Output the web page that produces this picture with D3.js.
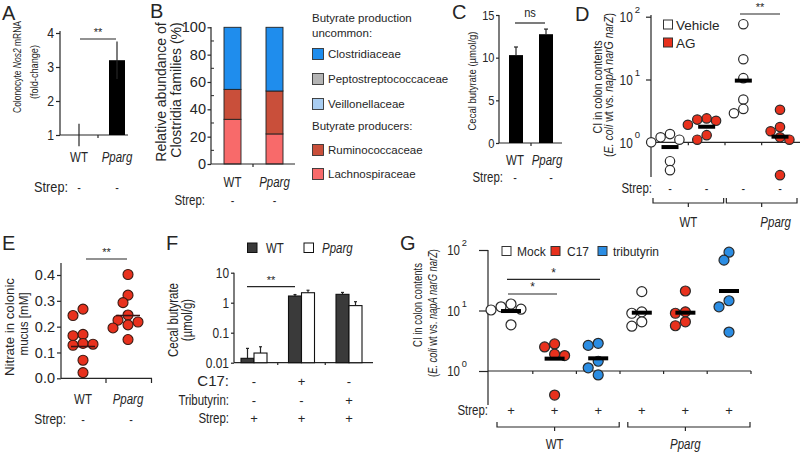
<!DOCTYPE html>
<html><head><meta charset="utf-8">
<script src="https://cdn.jsdelivr.net/npm/d3@7"></script>
<style>
html,body{margin:0;padding:0;background:#fff;}
svg{display:block;}
</style></head><body>
<svg id="fig" width="800" height="453"></svg>
<script>
// ---------------- DATA ----------------
// Panel A
const aGroups = ["WT", "Pparg"];
const aMean = [1.0, 3.2];
const aSem = [0.33, 0.55];
const aTicks = [1, 2, 3, 4];
const aStrep = ["-", "-"];
// Panel B
const bGroups = ["WT", "Pparg"];
const bFamilies = ["Lachnospiraceae", "Ruminococcaceae", "Veillonellaceae", "Peptostreptococcaceae", "Clostridiaceae"];
const bWT = [32.7, 21.9, 0, 0, 45.4];
const bPparg = [22.0, 31.4, 0, 0, 46.6];
const bTicks = [0, 20, 40, 60, 80, 100];
const bStrep = ["-", "-"];
// Panel C
const cGroups = ["WT", "Pparg"];
const cMean = [10.3, 12.75];
const cSem = [0.95, 0.6];
const cTicks = [0, 5, 10, 15];
const cStrep = ["-", "-"];
// Panel D
const dGroups = ["WT|Vehicle", "WT|AG", "Pparg|Vehicle", "Pparg|AG"];
const dWTVehicle = [1.35, 1.2, 1.1, 1.0, 0.5, 0.36];
const dWTAG = [2.4, 2.3, 2.2, 1.9, 1.3, 1.1];
const dPpargVehicle = [76, 21, 10.5, 4.8, 3.4, 2.9];
const dPpargAG = [3.3, 1.75, 1.5, 1.2, 1.1, 0.3];
const dMedian = [0.84, 1.77, 9.6, 1.23];
const dTicks = [1, 10, 100];
const dStrep = ["-", "-", "-", "-"];
// Panel E
const eGroups = ["WT", "Pparg"];
const eWT = [0.268, 0.243, 0.17, 0.165, 0.135, 0.132, 0.128, 0.07, 0.022];
const ePparg = [0.402, 0.322, 0.293, 0.245, 0.225, 0.218, 0.207, 0.195, 0.15];
const eMedian = [0.123, 0.243];
const eTicks = [0, 0.1, 0.2, 0.3, 0.4];
const eStrep = ["-", "-"];
// Panel F
const fGroups = ["1", "2", "3"];
const fWT = [0.014, 1.67, 1.9];
const fWTErr = [0.016, 0.2, 0.3];
const fPparg = [0.021, 2.15, 0.8];
const fPpargErr = [0.013, 0.45, 0.28];
const fTicks = [0.01, 0.1, 1, 10];
const fC17 = ["-", "+", "-"];
const fTrib = ["-", "-", "+"];
const fStrep = ["+", "+", "+"];
// Panel G
const gGroups = ["WT|Mock", "WT|C17", "WT|tributyrin", "Pparg|Mock", "Pparg|C17", "Pparg|tributyrin"];
const gWTMock = [12.8, 11.5, 10.5, 10.2, 5.8];
const gWTC17 = [2.8, 2.5, 1.9, 1.8, 0.4];
const gWTTrib = [2.87, 2.65, 1.45, 1.13, 0.86];
const gPpargMock = [20.5, 9.5, 9.0, 6.5, 5.5];
const gPpargC17 = [21, 9.5, 9.0, 6.5, 5.6];
const gPpargTrib = [92, 68, 14.5, 11.5, 4.4];
const gMedian = [9.8, 1.6, 1.62, 9.2, 9.2, 21];
const gTicks = [1, 10, 100];
const gStrep = ["+", "+", "+", "+", "+", "+"];

// ---------------- HELPERS ----------------
const svg = d3.select("#fig");
const REG = "'Liberation Sans',Arial,Helvetica,sans-serif";
const INK = "#262626";
const RED = "#e8311d";
const BLUE = "#2b8de3";
const NARROW_K = 0.82; // Arial-Narrow-like condensation

function txt(g, x, y, s, o = {}) {
  const t = g.append("text").attr("x", x).attr("y", y).attr("dy", "0.35em")
    .attr("font-size", o.size || 12).attr("text-anchor", o.anchor || "middle")
    .attr("font-family", REG).attr("fill", INK).text(s);
  if (!o.reg) t.classed("nar", true);
  if (o.italic) t.attr("font-style", "italic");
  return t;
}
function vtext(g, cx, cy, parts, size, reg, len) {
  const t = g.append("text").attr("transform", `translate(${cx},${cy}) rotate(-90)`)
    .attr("text-anchor", "middle").attr("dy", "0.35em").attr("font-size", size)
    .attr("font-family", REG).attr("fill", INK);
  parts.forEach(p => { const s = t.append("tspan").text(p[0]); if (p[1]) s.attr("font-style", "italic"); });
  if (len) t.attr("textLength", len).attr("lengthAdjust", "spacingAndGlyphs");
  else if (!reg) t.classed("nar", true);
  return t;
}
function line(g, x1, y1, x2, y2, w = 1.2, c = INK) {
  return g.append("line").attr("x1", x1).attr("y1", y1).attr("x2", x2).attr("y2", y2)
    .attr("stroke", c).attr("stroke-width", w);
}
function styleAxis(sel, size, reg) {
  sel.select(".domain").remove();
  sel.selectAll(".tick line").attr("stroke", INK).attr("stroke-width", 1.2);
  sel.selectAll(".tick text").attr("font-size", size).attr("font-family", REG).attr("fill", INK)
    .classed("nar", !reg);
}
// powers of ten drawn as "10" plus a separate raised exponent text
function supLabels(sel, size, gap) {
  sel.selectAll(".tick").each(function (d) {
    const tk = d3.select(this);
    tk.select("text").remove();
    const e = Math.round(Math.log10(d));
    const ex = -gap;
    tk.append("text").attr("x", ex).attr("y", -size * 0.3).attr("text-anchor", "end")
      .attr("font-size", size * 0.66).attr("font-family", REG).attr("fill", INK).text(e);
    tk.append("text").attr("x", ex - size * 0.5).attr("y", 0).attr("dy", "0.35em").attr("text-anchor", "end")
      .attr("font-size", size).attr("font-family", REG).attr("fill", INK).classed("nar", true).text("10");
  });
}
function swarm(vals, cx, yf, r) {
  const pts = vals.map((v, i) => ({ v, y: yf(v), i }));
  const sorted = pts.slice().sort((a, b) => a.y - b.y);
  const placed = [];
  const step = r * 1.0;
  sorted.forEach(p => {
    for (let k = 0; k < 30; k++) {
      const off = k === 0 ? 0 : (k % 2 ? -1 : 1) * Math.ceil(k / 2) * step;
      const x = cx + off;
      if (placed.every(q => Math.hypot(q.x - x, q.y - p.y) >= 2 * r * 0.9)) { p.x = x; break; }
    }
    placed.push(p);
  });
  return pts;
}
function letter(x, y, s) { txt(svg, x, y, s, { size: 20, anchor: "start", reg: true }); }
function sig(g, x1, x2, y, label, size = 11) {
  line(g, x1, y, x2, y, 1.2);
  txt(g, (x1 + x2) / 2, y - 7, label, { size, reg: true });
}

// ---------------- PANEL A ----------------
letter(2, 13, "A");
{
  const g = svg.append("g");
  const y = d3.scaleLinear().domain([1, 4]).range([135, 33]);
  const x = d3.scalePoint().domain(aGroups).range([79, 117]);
  const bw = 16;
  line(g, 60, 31, 60, 135);
  const ax = g.append("g").attr("transform", "translate(60,0)")
    .call(d3.axisLeft(y).tickValues(aTicks).tickSize(4).tickPadding(2).tickFormat(d3.format("d")));
  styleAxis(ax, 15);
  line(g, 60, 135, 128, 135);
  line(g, 98, 135, 98, 138);
  g.selectAll("rect.bar").data(aGroups).join("rect")
    .attr("x", d => x(d) - bw / 2).attr("width", bw)
    .attr("y", (d, i) => y(aMean[i])).attr("height", (d, i) => y(1) - y(aMean[i]))
    .attr("fill", "#000");
  aGroups.forEach((d, i) => line(g, x(d), y(aMean[i] - aSem[i]), x(d), y(aMean[i] + aSem[i]), 1.2));
  sig(g, x("WT") + 1, x("Pparg") - 1, 39, "**");
  aGroups.forEach((d, i) => {
    txt(g, x(d), 157, d, { size: 14, italic: d === "Pparg" });
    txt(g, x(d), 187, aStrep[i], { size: 13 });
  });
  txt(g, 68, 187, "Strep:", { size: 15.5, anchor: "end" });
  vtext(g, 17, 67, [["Colonocyte "], ["Nos2", true], [" mRNA"]], 11.5, false, 92);
  vtext(g, 34, 72, [["(fold-change)"]], 11.5, false, 54);
}

// ---------------- PANEL B ----------------
letter(150, 11, "B");
{
  const g = svg.append("g");
  const y = d3.scaleLinear().domain([0, 100]).range([164, 27.3]);
  const x = d3.scalePoint().domain(bGroups).range([232.5, 274.5]);
  const bw = 17;
  const color = d3.scaleOrdinal().domain(bFamilies)
    .range(["#f86a6a", "#c94f3a", "#a9cdf1", "#b4b4b4", "#1f8ded"]);
  const rows = bGroups.map((gname, i) => {
    const src = i === 0 ? bWT : bPparg;
    const o = { group: gname };
    bFamilies.forEach((f, j) => o[f] = src[j]);
    return o;
  });
  const series = d3.stack().keys(bFamilies)(rows);
  series.forEach(s => {
    g.selectAll(null).data(s).join("rect")
      .attr("x", d => x(d.data.group) - bw / 2).attr("width", bw)
      .attr("y", d => y(d[1])).attr("height", d => y(d[0]) - y(d[1]))
      .attr("fill", color(s.key)).attr("stroke", "#222").attr("stroke-width", 0.9);
  });
  line(g, 211, 27, 211, 164);
  const ax = g.append("g").attr("transform", "translate(211,0)")
    .call(d3.axisLeft(y).tickValues(bTicks).tickSize(3.5).tickPadding(1.5));
  styleAxis(ax, 14.5, true);
  [10, 30, 50, 70, 90].forEach(v => line(g, 211, y(v), 214, y(v), 1));
  line(g, 211, 164, 295, 164);
  line(g, 253, 164, 253, 167);
  bGroups.forEach((d, i) => {
    txt(g, x(d), 182, d, { size: 14, italic: d === "Pparg" });
    txt(g, x(d), 200, bStrep[i], { size: 13 });
  });
  txt(g, 205, 200, "Strep:", { size: 14, anchor: "end" });
  vtext(g, 161, 92, [["Relative abundance of"]], 14, true);
  vtext(g, 176, 90, [["Clostridia families (%)"]], 14, true);
  // legend
  const L = g.append("g");
  txt(L, 312, 18, "Butyrate production", { size: 11.5, anchor: "start", reg: true });
  txt(L, 312, 33, "uncommon:", { size: 11.5, anchor: "start", reg: true });
  txt(L, 312, 126, "Butyrate producers:", { size: 11.5, anchor: "start", reg: true });
  const legRows = [["Clostridiaceae", 54], ["Peptostreptococcaceae", 79], ["Veillonellaceae", 104], ["Ruminococcaceae", 150], ["Lachnospiraceae", 174]];
  legRows.forEach(([f, yy]) => {
    L.append("rect").attr("x", 312.5).attr("y", yy - 5.5).attr("width", 11).attr("height", 11)
      .attr("fill", color(f)).attr("stroke", "#333").attr("stroke-width", 0.9);
    txt(L, 328, yy, f, { size: 11.5, anchor: "start", reg: true });
  });
}

// ---------------- PANEL C ----------------
letter(452, 12, "C");
{
  const g = svg.append("g");
  const y = d3.scaleLinear().domain([0, 15]).range([143, 15]);
  const x = d3.scalePoint().domain(cGroups).range([516, 546]);
  const bw = 14;
  line(g, 499, 15, 499, 143);
  const ax = g.append("g").attr("transform", "translate(499,0)")
    .call(d3.axisLeft(y).tickValues(cTicks).tickSize(3).tickPadding(1.5));
  styleAxis(ax, 13.5);
  line(g, 499, 143, 562, 143);
  line(g, 531, 143, 531, 146);
  cGroups.forEach((d, i) => {
    line(g, x(d), y(cMean[i]), x(d), y(cMean[i] + cSem[i]), 1.2);
    line(g, x(d) - 2, y(cMean[i] + cSem[i]), x(d) + 2, y(cMean[i] + cSem[i]), 1.2);
  });
  g.selectAll("rect.bar").data(cGroups).join("rect")
    .attr("x", d => x(d) - bw / 2).attr("width", bw)
    .attr("y", (d, i) => y(cMean[i])).attr("height", (d, i) => y(0) - y(cMean[i]))
    .attr("fill", "#000");
  line(g, 515, 23, 545, 23);
  txt(g, 530, 12, "ns", { size: 13.5 });
  cGroups.forEach((d, i) => {
    txt(g, x(d) + (i ? 1 : -1), 160, d, { size: 14, italic: d === "Pparg" });
    txt(g, x(d) + (i ? 5 : -1), 177, cStrep[i], { size: 13 });
  });
  txt(g, 503, 177, "Strep:", { size: 14, anchor: "end" });
  vtext(g, 472, 81, [["Cecal butyrate (µmol/g)"]], 11.6);
}

// ---------------- PANEL D ----------------
letter(575, 14, "D");
{
  const g = svg.append("g");
  const y = d3.scaleLog().domain([1, 100]).range([142.3, 16.7]);
  const x = d3.scalePoint().domain(dGroups).range([670, 780]);
  const r = 4.7;
  line(g, 651, 15, 651, 177);
  const ax = g.append("g").attr("transform", "translate(651,0)")
    .call(d3.axisLeft(y).tickValues(dTicks).tickSize(5).tickPadding(4));
  styleAxis(ax, 14.5);
  supLabels(ax, 14.5, 11);
  line(g, 651, y(1), 800, y(1));
  [0, 1, 2].forEach(i => {
    const mx = (x(dGroups[i]) + x(dGroups[i + 1])) / 2;
    line(g, mx, y(1), mx, y(1) + 3);
  });
  const sets = [dWTVehicle, dWTAG, dPpargVehicle, dPpargAG];
  const fills = ["#fff", RED, "#fff", RED];
  sets.forEach((vals, i) => {
    const pts = swarm(vals, x(dGroups[i]), y, r);
    g.selectAll(null).data(pts).join("circle")
      .attr("cx", d => d.x).attr("cy", d => d.y).attr("r", r)
      .attr("fill", fills[i]).attr("stroke", "#2a2a2a").attr("stroke-width", 1.2);
    g.append("rect").attr("x", x(dGroups[i]) - 8.5).attr("width", 17)
      .attr("y", y(dMedian[i]) - 2).attr("height", 4).attr("fill", "#000");
  });
  sig(g, 740, 780, 14, "**");
  // legend
  g.append("rect").attr("x", 663.5).attr("y", 20).attr("width", 9).attr("height", 9)
    .attr("fill", "#fff").attr("stroke", "#333").attr("stroke-width", 1);
  txt(g, 676, 25, "Vehicle", { size: 13.5, anchor: "start", reg: true });
  g.append("rect").attr("x", 663.5).attr("y", 38).attr("width", 9).attr("height", 9)
    .attr("fill", RED).attr("stroke", "#333").attr("stroke-width", 1);
  txt(g, 676, 43, "AG", { size: 13.5, anchor: "start", reg: true });
  // strep + brackets
  txt(g, 652, 188, "Strep:", { size: 14, anchor: "end" });
  dGroups.forEach((d, i) => txt(g, x(d), 188, dStrep[i], { size: 13 }));
  const brackets = [["WT", 0, 1], ["Pparg", 2, 3]];
  brackets.forEach(([lab, a, b]) => {
    const x1 = x(dGroups[a]) - 17, x2 = x(dGroups[b]) + 17, yb = 203;
    g.append("path").attr("d", `M${x1},198V${yb}H${x2}V198`).attr("fill", "none")
      .attr("stroke", INK).attr("stroke-width", 1.2);
    const mx = (x(dGroups[a]) + x(dGroups[b])) / 2;
    line(g, mx, yb, mx, yb + 4);
    txt(g, lab === "WT" ? mx : mx + 14, 222, lab, { size: 14, italic: lab === "Pparg" });
  });
  vtext(g, 597, 87, [["CI in colon contents"]], 13, false, 93);
  vtext(g, 609, 85, [["("], ["E. coli", true], [" wt vs. "], ["napA narG narZ", true], [")"]], 12.8, false, 144);
}

// ---------------- PANEL E ----------------
letter(2, 243, "E");
{
  const g = svg.append("g");
  const y = d3.scaleLinear().domain([0, 0.4]).range([378.3, 275]);
  const x = d3.scalePoint().domain(eGroups).range([83, 128]);
  const r = 5;
  line(g, 61, 263, 61, 378.3);
  const ax = g.append("g").attr("transform", "translate(61,0)")
    .call(d3.axisLeft(y).tickValues(eTicks).tickSize(4).tickPadding(2).tickFormat(d3.format(".1f")));
  styleAxis(ax, 14.5, true);
  line(g, 61, 378.3, 152, 378.3);
  line(g, 106, 378.3, 106, 383);
  line(g, 151.5, 378.3, 151.5, 383);
  [eWT, ePparg].forEach((vals, i) => {
    const pts = swarm(vals, x(eGroups[i]), y, r);
    g.selectAll(null).data(pts).join("circle")
      .attr("cx", d => d.x).attr("cy", d => d.y).attr("r", r)
      .attr("fill", RED).attr("stroke", "#3a1a12").attr("stroke-width", 1.1);
    line(g, x(eGroups[i]) - 12, y(eMedian[i]), x(eGroups[i]) + 12, y(eMedian[i]), 1.6, "#3a1212");
  });
  sig(g, 86, 127, 259, "**");
  eGroups.forEach((d, i) => {
    txt(g, x(d), 399, d, { size: 14, italic: d === "Pparg" });
    txt(g, x(d) + (i ? 3 : 0), 419, eStrep[i], { size: 13 });
  });
  txt(g, 66, 419, "Strep:", { size: 14.5, anchor: "end" });
  vtext(g, 9, 327, [["Nitrate in colonic"]], 13, true, 98);
  vtext(g, 23, 324, [["mucus [mM]"]], 13, true, 63);
}

// ---------------- PANEL F ----------------
letter(166, 243, "F");
{
  const g = svg.append("g");
  const y = d3.scaleLog().domain([0.01, 10]).range([362.7, 272.7]);
  const x = d3.scalePoint().domain(fGroups).range([254, 349]);
  const bw = 13;
  line(g, 234, 272.7, 234, 362.7);
  const ax = g.append("g").attr("transform", "translate(234,0)")
    .call(d3.axisLeft(y).tickValues(fTicks).tickSize(3).tickPadding(2).tickFormat(d => String(d)));
  styleAxis(ax, 14.5);
  line(g, 234, 362.7, 373, 362.7);
  [0, 1].forEach(i => {
    const mx = (x(fGroups[i]) + x(fGroups[i + 1])) / 2;
    line(g, mx, 362.7, mx, 365);
  });
  const subs = [[fWT, fWTErr, "#3a3a3a", -1], [fPparg, fPpargErr, "#fff", 0]];
  subs.forEach(([vals, errs, fill, side]) => {
    fGroups.forEach((d, i) => {
      const bx = x(d) + side * bw;
      line(g, bx + bw / 2, y(vals[i]), bx + bw / 2, y(vals[i] + errs[i]), 1.2);
      line(g, bx + bw / 2 - 1.5, y(vals[i] + errs[i]), bx + bw / 2 + 1.5, y(vals[i] + errs[i]), 1.2);
      g.append("rect").attr("x", bx).attr("width", bw)
        .attr("y", y(vals[i])).attr("height", y(0.01) - y(vals[i]))
        .attr("fill", fill).attr("stroke", "#111").attr("stroke-width", 1.1);
    });
  });
  sig(g, 247, 295, 286.7, "**");
  // legend
  g.append("rect").attr("x", 247.5).attr("y", 243).attr("width", 9.5).attr("height", 9.5)
    .attr("fill", "#3a3a3a").attr("stroke", "#111").attr("stroke-width", 1);
  txt(g, 266, 248, "WT", { size: 14, anchor: "start" });
  g.append("rect").attr("x", 304).attr("y", 243).attr("width", 9.5).attr("height", 9.5)
    .attr("fill", "#fff").attr("stroke", "#111").attr("stroke-width", 1);
  txt(g, 322, 248, "Pparg", { size: 14, anchor: "start", italic: true });
  // rows
  txt(g, 229, 381, "C17:", { size: 15, anchor: "end", reg: true });
  txt(g, 229, 400, "Tributyrin:", { size: 14, anchor: "end" });
  txt(g, 229, 418, "Strep:", { size: 14, anchor: "end" });
  fGroups.forEach((d, i) => {
    txt(g, x(d), 381, fC17[i], { size: 13, reg: true });
    txt(g, x(d), 400, fTrib[i], { size: 13, reg: true });
    txt(g, x(d), 418, fStrep[i], { size: 13, reg: true });
  });
  vtext(g, 173, 320, [["Cecal butyrate"]], 14);
  vtext(g, 187, 320, [["(µmol/g)"]], 14);
}

// ---------------- PANEL G ----------------
letter(400, 243, "G");
{
  const g = svg.append("g");
  const y = d3.scaleLog().domain([1, 100]).range([371, 250]);
  const x = d3.scalePoint().domain(gGroups).range([511, 729]);
  const r = 5;
  line(g, 488, 250, 488, 405);
  const ax = g.append("g").attr("transform", "translate(488,0)")
    .call(d3.axisLeft(y).tickValues(gTicks).tickSize(9).tickPadding(10));
  styleAxis(ax, 14);
  supLabels(ax, 14, 21);
  line(g, 488, y(1), 751, y(1));
  gGroups.forEach((d, i) => {
    const mx = i < gGroups.length - 1 ? (x(d) + x(gGroups[i + 1])) / 2 : x(d) + 22;
    line(g, mx, y(1), mx, y(1) + 3);
  });
  const sets = [gWTMock, gWTC17, gWTTrib, gPpargMock, gPpargC17, gPpargTrib];
  const fills = ["#fff", RED, BLUE, "#fff", RED, BLUE];
  sets.forEach((vals, i) => {
    const pts = swarm(vals, x(gGroups[i]), y, r);
    g.selectAll(null).data(pts).join("circle")
      .attr("cx", d => d.x).attr("cy", d => d.y).attr("r", r)
      .attr("fill", fills[i]).attr("stroke", "#2a2a2a").attr("stroke-width", 1.2);
    g.append("rect").attr("x", x(gGroups[i]) - 10).attr("width", 20)
      .attr("y", y(gMedian[i]) - 2).attr("height", 4).attr("fill", "#000");
  });
  sig(g, 507, 600, 279.3, "*", 12);
  sig(g, 508, 557, 294, "*", 12);
  // legend
  const leg = [["Mock", "#fff", 502, 517], ["C17", RED, 551, 567], ["tributyrin", BLUE, 598, 613]];
  leg.forEach(([lab, col, sx, tx]) => {
    g.append("rect").attr("x", sx).attr("y", 246.5).attr("width", 9).attr("height", 9)
      .attr("fill", col).attr("stroke", "#333").attr("stroke-width", 1);
    txt(g, tx, 251.5, lab, { size: 12, anchor: "start", reg: true });
  });
  txt(g, 488, 410, "Strep:", { size: 14, anchor: "end" });
  gGroups.forEach((d, i) => txt(g, x(d), 410, gStrep[i], { size: 13, reg: true }));
  const brackets = [["WT", 0, 2], ["Pparg", 3, 5]];
  brackets.forEach(([lab, a, b]) => {
    const x1 = x(gGroups[a]) - 14, x2 = x(gGroups[b]) + 21, yb = 427;
    g.append("path").attr("d", `M${x1},422V${yb}H${x2}V422`).attr("fill", "none")
      .attr("stroke", INK).attr("stroke-width", 1.2);
    const mx = x(gGroups[a + 1]);
    line(g, mx, yb, mx, yb + 4);
    txt(g, mx, 444, lab, { size: 14, italic: lab === "Pparg" });
  });
  vtext(g, 418, 305, [["CI in colon contents"]], 12.5, false, 84);
  vtext(g, 433, 313, [["("], ["E. coli", true], [" wt vs. "], ["napA narG narZ", true], [")"]], 12.5, false, 128);
}

// condense "narrow" texts (Arial Narrow look) with the native text-length adjustment
svg.selectAll("text.nar").each(function () {
  const L = this.getComputedTextLength();
  if (L > 0) d3.select(this).attr("textLength", (L * NARROW_K).toFixed(1)).attr("lengthAdjust", "spacingAndGlyphs");
});
</script>
</body></html>
